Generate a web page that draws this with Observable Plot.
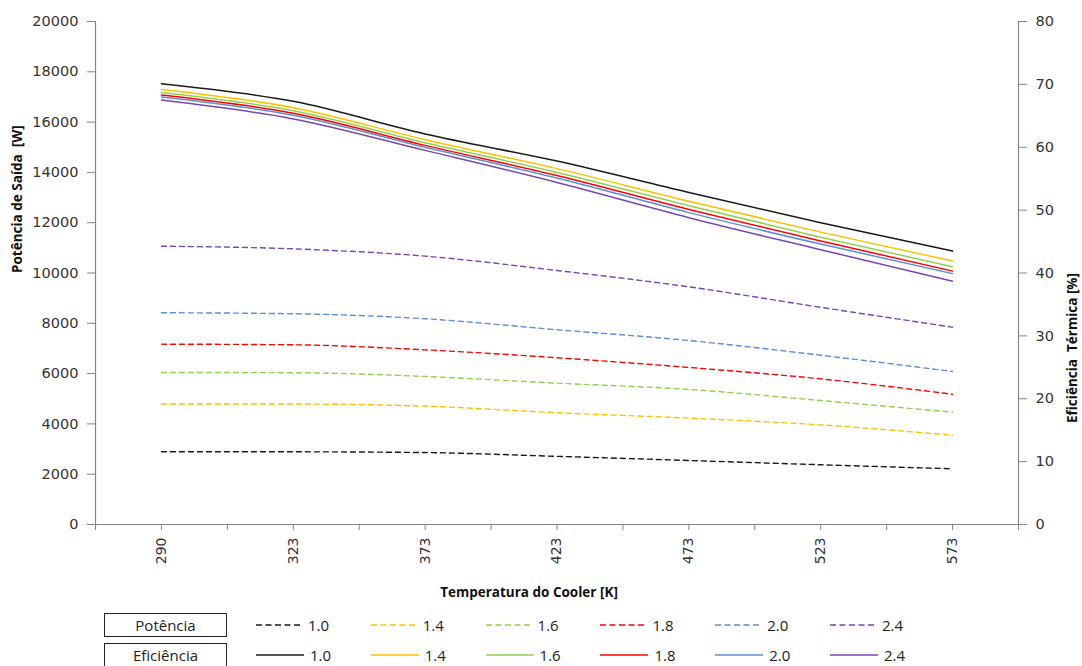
<!DOCTYPE html>
<html>
<head>
<meta charset="utf-8">
<script src="https://cdn.jsdelivr.net/npm/d3@7"></script>
<script src="https://cdn.jsdelivr.net/npm/@observablehq/plot@0.6"></script>
<style>
  body { margin: 0; background: #fff; font-family: "Open Sans", sans-serif; }
  #chart svg { display: block; }
  #legenda { position: relative; width: 1082px; height: 60px; font-family: "Open Sans", sans-serif; font-size: 15px; color: #222; }
  .caixa { position: absolute; left: 104px; width: 121px; height: 22px; border: 1px solid #222; text-align: center; line-height: 22px; }
  .linha { position: absolute; left: 256px; display: flex; height: 24px; align-items: center; }
  .item { width: 114.8px; display: flex; align-items: center; }
  .item svg { margin-right: 6px; }
</style>
</head>
<body>
<div id="chart"></div>
<div id="legenda"></div>
<script>
// Temperaturas do cooler (eixo x, categorias)
const temperaturas = ["290", "323", "373", "423", "473", "523", "573"];
// Razões de compressão de cada série
const razoes = ["1.0", "1.4", "1.6", "1.8", "2.0", "2.4"];
const cores = ["#1a1a1a", "#ffc000", "#92d050", "#ff0000", "#5b8fd6", "#7a45b5"];

// Potência de saída [W] por razão
const pot10 = [2890, 2890, 2860, 2710, 2545, 2375, 2215];
const pot14 = [4790, 4790, 4705, 4445, 4230, 3960, 3550];
const pot16 = [6045, 6035, 5885, 5620, 5370, 4930, 4465];
const pot18 = [7170, 7145, 6945, 6630, 6245, 5790, 5180];
const pot20 = [8420, 8380, 8180, 7745, 7315, 6730, 6085];
const pot24 = [11065, 10960, 10670, 10100, 9450, 8635, 7845];

// Eficiência térmica [%] por razão
const ef10 = [70.1, 67.3, 62.1, 57.8, 52.8, 48.0, 43.5];
const ef14 = [69.2, 66.3, 61.2, 56.6, 51.4, 46.5, 41.9];
const ef16 = [68.7, 65.8, 60.7, 56.0, 50.7, 45.7, 41.0];
const ef18 = [68.3, 65.4, 60.3, 55.5, 50.1, 45.1, 40.3];
const ef20 = [68.0, 65.1, 60.0, 55.1, 49.6, 44.6, 39.9];
const ef24 = [67.5, 64.5, 59.5, 54.4, 48.8, 43.7, 38.7];

// Eixo esquerdo: 0–20000 W; eixo direito: 0–80 %
const maxPot = 20000, maxEf = 80;
const fator = maxPot / maxEf;

const potencias = [pot10, pot14, pot16, pot18, pot20, pot24];
const eficiencias = [ef10, ef14, ef16, ef18, ef20, ef24];

const dadosPot = potencias.flatMap((serie, i) =>
  serie.map((v, j) => ({ idx: j, razao: razoes[i], valor: v })));
const dadosEf = eficiencias.flatMap((serie, i) =>
  serie.map((v, j) => ({ idx: j, razao: razoes[i], valor: v })));

const dominioX = [-0.5, temperaturas.length - 0.5];
const cinza = "#868686";
const texto = "#333";
const fonte = "Open Sans, sans-serif";
const fonteEixo = "DejaVu Sans, sans-serif";

const grafico = Plot.plot({
  width: 1082,
  height: 606,
  marginLeft: 95,
  marginRight: 64,
  marginTop: 21,
  marginBottom: 82,
  style: { fontFamily: fonte, background: "#fff" },
  x: { type: "linear", domain: dominioX },
  y: { domain: [0, maxPot] },
  color: { domain: razoes, range: cores },
  marks: [
    // linhas dos eixos
    Plot.ruleX(dominioX, { stroke: cinza, strokeWidth: 1.2, y1: 0, y2: maxPot }),
    Plot.ruleY([0], { stroke: cinza, strokeWidth: 1.2 }),
    // eixo x com marcas nas categorias e entre elas
    Plot.axisX({
      ticks: d3.range(dominioX[0], dominioX[1] + 0.01, 0.5),
      tickFormat: d => Number.isInteger(d) ? temperaturas[d] : "",
      tickRotate: -90, tickSize: 6, tickPadding: 7,
      stroke: cinza, fill: texto, fontSize: 14, fontFamily: fonteEixo, label: null
    }),
    // eixo esquerdo: potência
    Plot.axisY({
      ticks: d3.range(0, maxPot + 1, 2000), tickFormat: d3.format("d"),
      tickSize: 8, tickPadding: 9,
      stroke: cinza, fill: texto, fontSize: 14.5, fontFamily: fonteEixo, label: null
    }),
    // eixo direito: eficiência (mesma escala, 80 % = 20000 W)
    Plot.axisY({
      anchor: "right",
      ticks: d3.range(0, maxEf + 1, 10).map(d => d * fator),
      tickFormat: d => d / fator, tickSize: 8, tickPadding: 9,
      stroke: cinza, fill: texto, fontSize: 14.5, fontFamily: fonteEixo, label: null
    }),
    // curvas de potência (tracejadas)
    Plot.line(dadosPot, {
      x: "idx", y: "valor", z: "razao", stroke: "razao",
      strokeWidth: 1.4, strokeDasharray: "5,4", curve: "monotone-x"
    }),
    // curvas de eficiência (contínuas)
    Plot.line(dadosEf, {
      x: "idx", y: d => d.valor * fator, z: "razao", stroke: "razao",
      strokeWidth: 1.5, curve: "monotone-x"
    }),
    // títulos dos eixos
    Plot.text(["Temperatura do Cooler [K]"], {
      frameAnchor: "bottom", dx: -28, dy: 72, fontWeight: "bold", fontSize: 13.5, fill: "#111"
    }),
    Plot.text(["Potência de Saída  [W]"], {
      frameAnchor: "left", dx: -78, rotate: -90, fontWeight: "bold", fontSize: 13.5, fill: "#111"
    }),
    Plot.text(["Eficiência  Térmica [%]"], {
      frameAnchor: "right", dx: 54, rotate: -90, fontWeight: "bold", fontSize: 13.5, fill: "#111"
    })
  ]
});
document.getElementById("chart").append(grafico);

// Legenda em duas linhas: potência (tracejada) e eficiência (contínua)
const legenda = document.getElementById("legenda");
function amostra(cor, tracejada) {
  const ns = "http://www.w3.org/2000/svg";
  const s = document.createElementNS(ns, "svg");
  s.setAttribute("width", tracejada ? 46 : 48);
  s.setAttribute("height", 10);
  const l = document.createElementNS(ns, "line");
  l.setAttribute("x1", 0); l.setAttribute("x2", tracejada ? 46 : 48);
  l.setAttribute("y1", 5); l.setAttribute("y2", 5);
  l.setAttribute("stroke", cor);
  l.setAttribute("stroke-width", tracejada ? 1.3 : 1.6);
  if (tracejada) l.setAttribute("stroke-dasharray", "6,3.5");
  s.append(l);
  return s;
}
[["Potência", true, 7], ["Eficiência", false, 37]].forEach(([nome, tracejada, topo]) => {
  const caixa = document.createElement("div");
  caixa.className = "caixa";
  caixa.style.top = topo + "px";
  caixa.textContent = nome;
  legenda.append(caixa);
  const linha = document.createElement("div");
  linha.className = "linha";
  linha.style.top = topo + "px";
  razoes.forEach((r, i) => {
    const item = document.createElement("div");
    item.className = "item";
    item.append(amostra(cores[i], tracejada));
    const t = document.createElement("span");
    t.textContent = r;
    item.append(t);
    linha.append(item);
  });
  legenda.append(linha);
});
</script>
</body>
</html>
